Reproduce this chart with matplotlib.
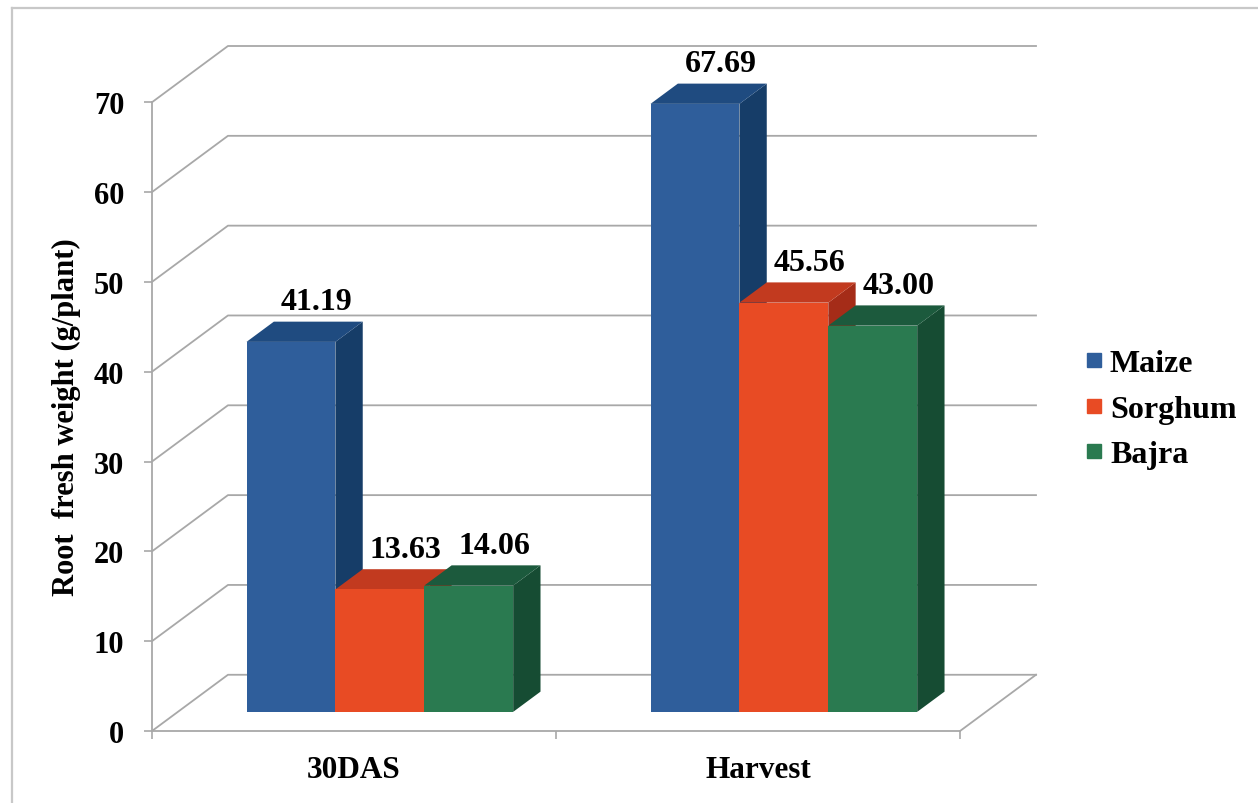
import numpy as np
import matplotlib.pyplot as plt
from matplotlib.lines import Line2D

categories = ['30DAS', 'Harvest']
crops = ['Maize', 'Sorghum', 'Bajra']
maize = [41.19, 67.69]
sorghum = [13.63, 45.56]
bajra = [14.06, 43.00]
y_ticks = [0, 10, 20, 30, 40, 50, 60, 70]

front_colors = ['#2f5e9b', '#e84b24', '#2a7a50']
top_colors = ['#1f4b80', '#c23a1f', '#1c5a3d']
side_colors = ['#163d68', '#a52c18', '#164c33']
grid_c = '#a8a8a8'

plt.rcParams['font.family'] = 'Liberation Serif'
plt.rcParams['font.weight'] = 'bold'

# oblique depth of walls/floor: x in category units, y in data units
DX = 0.188
DY = 6.26
f0, f1 = 0.34, 0.70   # bars sit between these fractions of the depth
bar_w = 0.22

fig = plt.figure(figsize=(12.58, 8.04), dpi=100)
ax = fig.add_axes([152 / 1258, 72 / 804, 884 / 1258, 685 / 804])
ax.set_xlim(-0.5, 1.5 + DX)
ax.set_ylim(0, y_ticks[-1] + DY)

# back wall gridlines and the floor
for v in y_ticks:
    ax.plot([-0.5, -0.5 + DX, 1.5 + DX], [v, v + DY, v + DY],
            color=grid_c, lw=1.3, zorder=1, clip_on=False)
ax.plot([1.5, 1.5 + DX], [0, DY], color=grid_c, lw=1.3, zorder=1, clip_on=False)

# 3d-looking bars: side, top, then front face
series = [maize, sorghum, bajra]
ddx = (f1 - f0) * DX
ddy = (f1 - f0) * DY
z = 3
for gi in range(len(categories)):
    for si, vals in enumerate(series):
        v = vals[gi]
        x0 = gi - 1.5 * bar_w + si * bar_w + f0 * DX
        y0 = f0 * DY
        xr = x0 + bar_w
        ax.fill([xr, xr + ddx, xr + ddx, xr], [y0, y0 + ddy, y0 + v + ddy, y0 + v],
                color=side_colors[si], zorder=z, lw=0)
        ax.fill([x0, x0 + ddx, xr + ddx, xr], [y0 + v, y0 + v + ddy, y0 + v + ddy, y0 + v],
                color=top_colors[si], zorder=z, lw=0)
        ax.bar(x0, v, bar_w, bottom=y0, align='edge', color=front_colors[si],
               zorder=z, lw=0)
        ax.text(x0 + bar_w / 2 + 0.34 * DX, v + f1 * DY + 1.4, f'{v:.2f}',
                ha='center', va='baseline', fontsize=23, fontweight='bold', zorder=20)
        z += 1

for s in ['top', 'right']:
    ax.spines[s].set_visible(False)
ax.spines['left'].set_bounds(0, y_ticks[-1])
ax.spines['bottom'].set_bounds(-0.5, 1.5)
for s in ['left', 'bottom']:
    ax.spines[s].set_color(grid_c)
    ax.spines[s].set_linewidth(1.3)

ax.set_yticks(y_ticks)
ax.tick_params(axis='y', length=6, width=1.2, color=grid_c, pad=14, labelsize=22)
ax.set_xticks([-0.5, 0.5, 1.5])
ax.set_xticklabels([])
ax.set_xticks([0, 1], minor=True)
ax.set_xticklabels(categories, minor=True)
ax.tick_params(axis='x', which='major', length=6, width=1.2, color=grid_c)
ax.tick_params(axis='x', which='minor', length=0, pad=17, labelsize=22.5)

fig.text(66 / 1258, 1 - 417 / 804, 'Root  fresh weight (g/plant)', rotation=90,
         ha='center', va='center', fontsize=22, fontweight='bold')

handles = [Line2D([], [], marker='s', ls='none', markersize=9.5, color=c) for c in front_colors]
fig.legend(handles, crops, loc='center left', bbox_to_anchor=(1086 / 1258, 1 - 410 / 804),
           frameon=False, fontsize=23, handletextpad=0.25, labelspacing=0.5,
           handlelength=0.5, borderpad=0, borderaxespad=0)

# outer chart frame
fig.add_artist(Line2D([12 / 1258, 12 / 1258], [0, 1 - 9 / 804], transform=fig.transFigure,
                      color='#c8c8c8', lw=1.6))
fig.add_artist(Line2D([12 / 1258, 1], [1 - 9 / 804, 1 - 9 / 804], transform=fig.transFigure,
                      color='#c8c8c8', lw=1.6))

fig.savefig('out.png', dpi=100, facecolor='white')
